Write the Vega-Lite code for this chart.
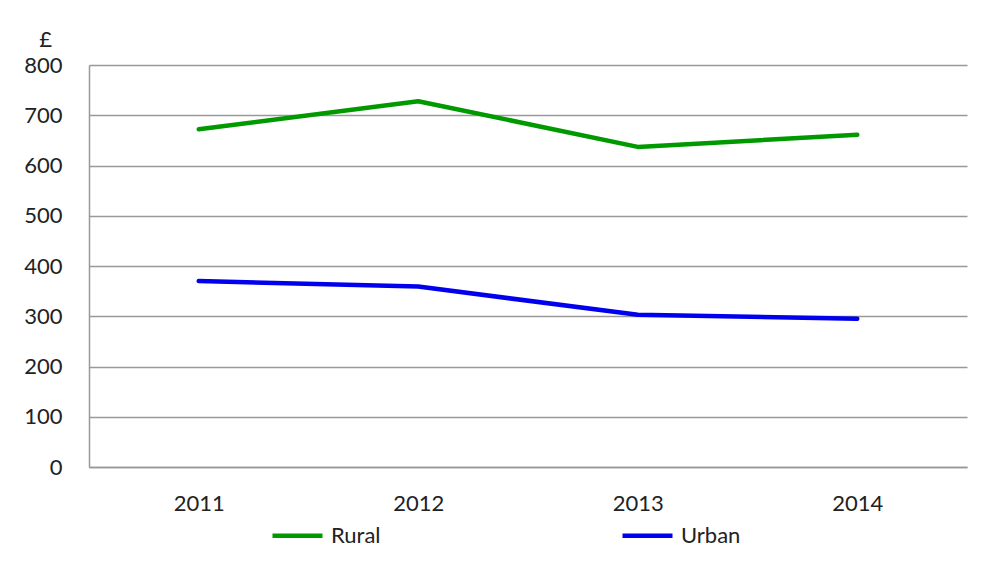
{
  "$schema": "https://vega.github.io/schema/vega-lite/v6.json",
  "width": 878,
  "height": 402,
  "autosize": "none",
  "padding": {"left": 89, "top": 65, "right": 28, "bottom": 106},
  "background": "white",
  "data": {
    "values": [
      {"year": "2011", "area": "Rural", "value": 672},
      {"year": "2012", "area": "Rural", "value": 728},
      {"year": "2013", "area": "Rural", "value": 637},
      {"year": "2014", "area": "Rural", "value": 661},
      {"year": "2011", "area": "Urban", "value": 370},
      {"year": "2012", "area": "Urban", "value": 359},
      {"year": "2013", "area": "Urban", "value": 303},
      {"year": "2014", "area": "Urban", "value": 295}
    ]
  },
  "config": {
    "font": "Lato",
    "view": {"stroke": null}
  },
  "mark": {"type": "line", "strokeWidth": 4.5, "strokeCap": "round", "strokeJoin": "round"},
  "encoding": {
    "x": {
      "field": "year",
      "type": "ordinal",
      "scale": {"type": "point", "padding": 0.5},
      "axis": {
        "title": null,
        "labelAngle": 0,
        "labelFontSize": 22,
        "labelColor": "#222",
        "labelPadding": 26,
        "ticks": false,
        "domainColor": "#999",
        "domainWidth": 1.5,
        "grid": false
      }
    },
    "y": {
      "field": "value",
      "type": "quantitative",
      "scale": {"domain": [0, 800], "nice": false},
      "axis": {
        "values": [0, 100, 200, 300, 400, 500, 600, 700, 800],
        "title": "£",
        "titleAngle": 0,
        "titleFontSize": 22,
        "titleFontWeight": "normal",
        "titleColor": "#222",
        "titleX": -44,
        "titleY": -14,
        "titleAlign": "center",
        "titleBaseline": "bottom",
        "labelFontSize": 22,
        "labelColor": "#222",
        "labelPadding": 27,
        "ticks": false,
        "domainColor": "#999",
        "domainWidth": 1.5,
        "gridColor": "#999",
        "gridWidth": 1.5
      }
    },
    "color": {
      "field": "area",
      "type": "nominal",
      "scale": {"domain": ["Rural", "Urban"], "range": ["#009900", "#0000ee"]},
      "legend": {
        "title": null,
        "orient": "none",
        "legendX": 181,
        "legendY": 443,
        "direction": "horizontal",
        "columns": 2,
        "gridAlign": "all",
        "columnPadding": 222,
        "symbolType": "stroke",
        "symbolSize": 2500,
        "symbolStrokeWidth": 4.5,
        "labelFontSize": 22,
        "labelColor": "#222",
        "labelOffset": 6
      }
    }
  }
}
